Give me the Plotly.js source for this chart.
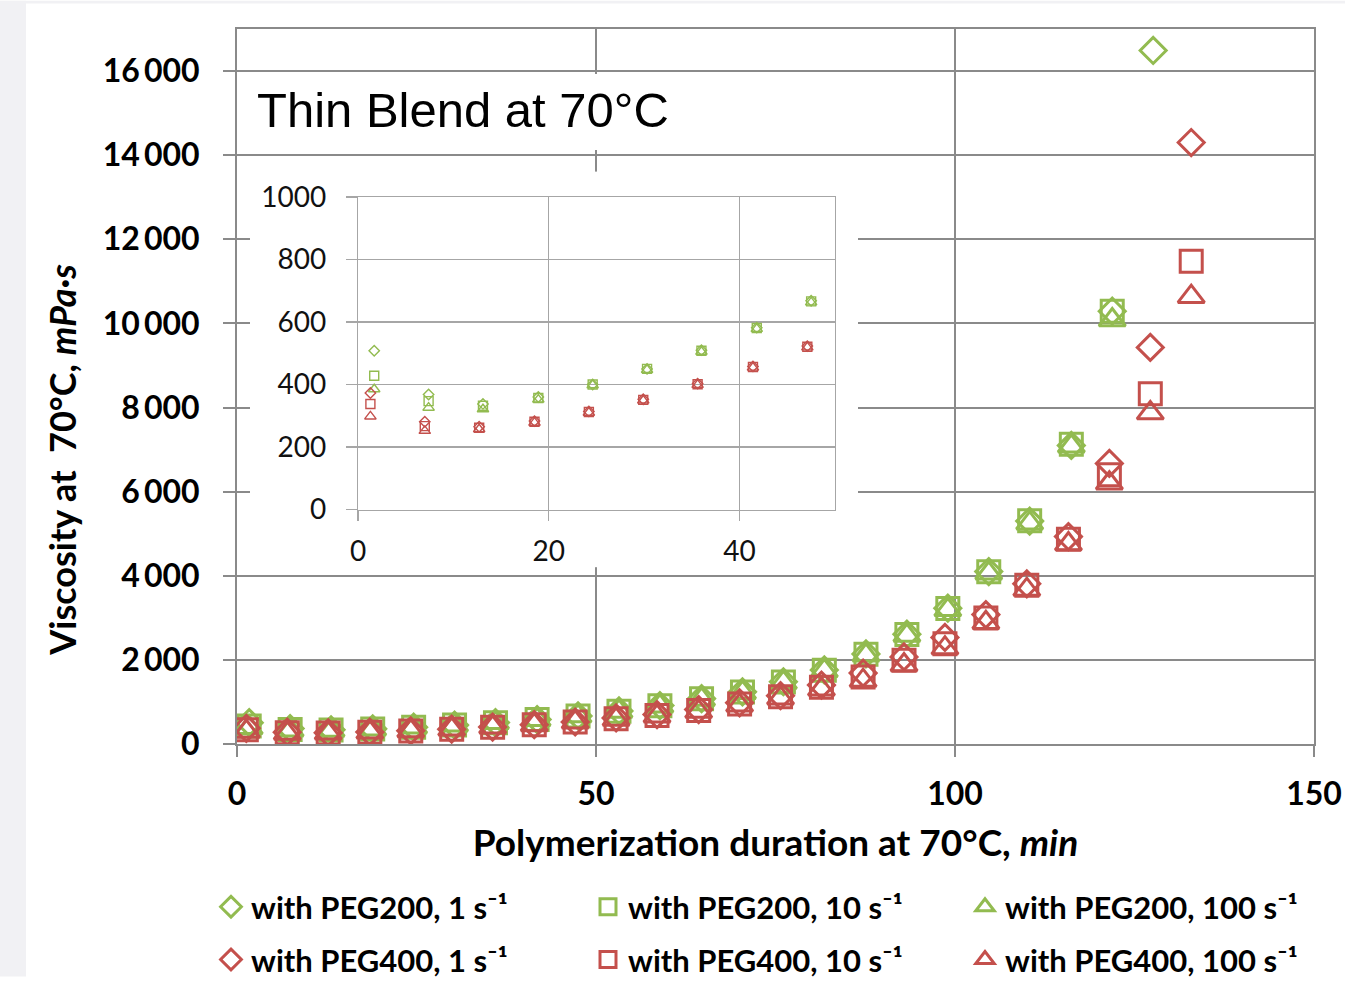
<!DOCTYPE html>
<html>
<head>
<meta charset="utf-8">
<script src="https://cdn.plot.ly/plotly-3.0.1.min.js"></script>
<style>
html,body{margin:0;padding:0;background:#fff;width:1345px;height:999px;overflow:hidden;}
#chart{position:absolute;left:0;top:0;width:1345px;height:999px;overflow:hidden;}
</style>
</head>
<body>
<div id="chart"></div>
<script>
// ---- data ----
const timePEG200 = [1.7, 7.4, 13.1, 18.9, 24.6, 30.3, 36.0, 41.8, 47.5, 53.2, 58.9, 64.7, 70.4, 76.1, 81.8, 87.6, 93.3, 99.0, 104.7, 110.4, 116.2, 121.9, 127.6];
const timePEG400 = [1.3, 7.0, 12.7, 18.5, 24.2, 29.9, 35.6, 41.4, 47.1, 52.8, 58.5, 64.3, 70.0, 75.7, 81.4, 87.2, 92.9, 98.6, 104.3, 110.0, 115.8, 121.5, 127.2, 132.9];

const peg200_1s   = [508, 368, 338, 360, 400, 450, 510, 582, 668, 785, 915, 1080, 1240, 1480, 1760, 2140, 2610, 3230, 4100, 5300, 7100, 10290, 16490];
const peg200_10s  = [428, 347, 332, 357, 400, 450, 508, 581, 666, 781, 911, 1074, 1237, 1476, 1755, 2133, 2605, 3223, 4097, 5310, 7126, 10290];
const peg200_100s = [385, 326, 321, 352, 398, 447, 505, 578, 663, 775, 900, 1060, 1220, 1460, 1740, 2110, 2580, 3190, 4060, 5250, 7080, 10080];

const peg400_1s   = [373, 281, 265, 283, 314, 353, 403, 458, 523, 620, 700, 820, 980, 1150, 1400, 1686, 2071, 2535, 3077, 3810, 4932, 6671, 9430, 14300];
const peg400_10s  = [338, 267, 262, 281, 312, 351, 401, 456, 521, 603, 680, 796, 951, 1121, 1352, 1593, 1994, 2381, 2998, 3772, 4870, 6400, 8325, 11478];
const peg400_100s = [298, 252, 257, 278, 310, 349, 399, 454, 519, 585, 660, 770, 920, 1090, 1300, 1507, 1878, 2280, 2882, 3671, 4754, 6199, 7868, 10636];

const seriesNames = [
  'with PEG200, 1 s\u207B\u00B9', 'with PEG200, 10 s\u207B\u00B9', 'with PEG200, 100 s\u207B\u00B9',
  'with PEG400, 1 s\u207B\u00B9', 'with PEG400, 10 s\u207B\u00B9', 'with PEG400, 100 s\u207B\u00B9'
];
const xTickVals = [0, 50, 100, 150];
const yTickVals = [0, 2000, 4000, 6000, 8000, 10000, 12000, 14000, 16000];
const insetXTicks = [0, 20, 40];
const insetYTicks = [0, 200, 400, 600, 800, 1000];
const chartTitle = 'Thin Blend at 70°C';
const xTitle = 'Polymerization duration at 70°C, <i>min</i>';
const yTitle = 'Viscosity at\u00A0 70°C, <i>mPa·s</i>';

// ---- styles ----
const GREEN = '#92BB50', RED = '#C4504C';
const GRID = '#8a8a8a', IGRID = '#a6a6a6';
const bold = 'Lato, "Open Sans", sans-serif';

const series = [
  {x: timePEG200, y: peg200_1s,   c: GREEN, s: 'diamond-open', leg: 'legend'},
  {x: timePEG200, y: peg200_10s,  c: GREEN, s: 'square-open', leg: 'legend'},
  {x: timePEG200, y: peg200_100s, c: GREEN, s: 'triangle-up-open', leg: 'legend'},
  {x: timePEG400, y: peg400_1s,   c: RED, s: 'diamond-open', leg: 'legend2'},
  {x: timePEG400, y: peg400_10s,  c: RED, s: 'square-open', leg: 'legend2'},
  {x: timePEG400, y: peg400_100s, c: RED, s: 'triangle-up-open', leg: 'legend2'}
];
const mainSize = {'diamond-open': 20, 'square-open': 22, 'triangle-up-open': 23};
const insetSize = {'diamond-open': 8, 'square-open': 9, 'triangle-up-open': 10};

const traces = [];
// cover subplot (white box behind the inset)
traces.push({x: [], y: [], xaxis: 'x2', yaxis: 'y2', type: 'scatter', mode: 'markers', showlegend: false, hoverinfo: 'skip'});
series.forEach((d, i) => {
  traces.push({
    type: 'scatter', mode: 'markers', name: seriesNames[i], legend: d.leg,
    x: d.x, y: d.y, xaxis: 'x', yaxis: 'y',
    marker: {symbol: d.s, size: mainSize[d.s], color: d.c, line: {color: d.c, width: 3}}
  });
});
series.forEach((d, i) => {
  traces.push({
    type: 'scatter', mode: 'markers', name: seriesNames[i], showlegend: false,
    x: d.x, y: d.y, xaxis: 'x3', yaxis: 'y3', cliponaxis: true,
    marker: {symbol: d.s, size: insetSize[d.s], color: d.c, line: {color: d.c, width: 1.4}}
  });
});

// plot area in px: x 237..1314, y 29..761
const L = 237, R = 1314, T = 29, B = 761, W = R - L, H = B - T;
const px = v => (v - L) / W;
const py = v => (B - v) / H;

const layout = {
  width: 1345, height: 999,
  margin: {l: L, r: 1345 - R, t: T, b: 999 - B, pad: 0},
  paper_bgcolor: '#ffffff', plot_bgcolor: '#ffffff',
  separators: '.\u2009',
  showlegend: true,
  font: {family: bold, color: '#000'},
  xaxis: {
    domain: [0, 1], anchor: 'y', range: [0, 150], tickvals: xTickVals,
    showgrid: true, gridcolor: GRID, gridwidth: 2, zeroline: false,
    showline: true, linecolor: GRID, linewidth: 2, mirror: true,
    ticks: 'outside', ticklen: 11, tickwidth: 2, tickcolor: GRID,
    tickfont: {family: bold, size: 32, color: '#000', weight: 'bold'}, ticklabelstandoff: 10,
    title: {text: xTitle, font: {family: bold, size: 37, color: '#000', weight: 'bold'}, standoff: 19}
  },
  yaxis: {
    domain: [0, 1], anchor: 'x', range: [0, 17000], tickvals: yTickVals, tickformat: ',d',
    showgrid: true, gridcolor: GRID, gridwidth: 2, zeroline: false,
    showline: true, linecolor: GRID, linewidth: 2, mirror: true,
    ticks: 'outside', ticklen: 12, tickwidth: 2, tickcolor: GRID,
    tickfont: {family: bold, size: 32, color: '#000', weight: 'bold'}, ticklabelstandoff: 17
  },
  // white cover behind inset
  xaxis2: {domain: [px(250), px(858)], anchor: 'y2', range: [0, 1], visible: false, showgrid: false, zeroline: false, fixedrange: true},
  yaxis2: {domain: [py(580), py(175)], anchor: 'x2', range: [0, 1], visible: false, showgrid: false, zeroline: false, fixedrange: true},
  // inset
  xaxis3: {
    domain: [px(358), px(835)], anchor: 'y3', range: [0, 50], tickvals: insetXTicks,
    showgrid: true, gridcolor: IGRID, gridwidth: 1.2, zeroline: false,
    showline: true, linecolor: IGRID, linewidth: 1.2, mirror: true,
    ticks: 'outside', ticklen: 10, tickwidth: 1.2, tickcolor: IGRID,
    tickfont: {family: bold, size: 28, color: '#111'}, ticklabelstandoff: 7
  },
  yaxis3: {
    domain: [py(521), py(201)], anchor: 'x3', range: [0, 1000], tickvals: insetYTicks,
    showgrid: true, gridcolor: IGRID, gridwidth: 1.2, zeroline: false,
    showline: true, linecolor: IGRID, linewidth: 1.2, mirror: true,
    ticks: 'outside', ticklen: 11, tickwidth: 1.2, tickcolor: IGRID,
    tickfont: {family: bold, size: 28, color: '#111'}, ticklabelstandoff: 14
  },
  legend: {
    orientation: 'h', x: px(211), xanchor: 'left', y: py(928), yanchor: 'middle',
    entrywidth: 332, entrywidthmode: 'pixels', bgcolor: 'rgba(0,0,0,0)',
    font: {family: bold, size: 31, color: '#000', weight: 'bold'}, traceorder: 'normal'
  },
  legend2: {
    orientation: 'h', x: px(211), xanchor: 'left', y: py(982), yanchor: 'middle',
    entrywidth: 332, entrywidthmode: 'pixels', bgcolor: 'rgba(0,0,0,0)',
    font: {family: bold, size: 31, color: '#000', weight: 'bold'}, traceorder: 'normal'
  },
  shapes: [
    {type: 'rect', xref: 'paper', yref: 'paper', x0: px(0), x1: px(26), y0: py(999), y1: py(0), fillcolor: '#f1f1f4', line: {width: 0}, layer: 'below'},
    {type: 'rect', xref: 'paper', yref: 'paper', x0: px(0), x1: px(1345), y0: py(3), y1: py(0), fillcolor: '#f1f1f4', line: {width: 0}, layer: 'below'},
    {type: 'rect', xref: 'paper', yref: 'paper', x0: px(240), x1: px(690), y0: py(153), y1: py(75), fillcolor: '#ffffff', line: {width: 0}, layer: 'above'}
  ],
  annotations: [
    {text: chartTitle, xref: 'paper', yref: 'paper', x: px(255), y: py(112), xanchor: 'left', yanchor: 'middle',
     showarrow: false, font: {family: '"Liberation Sans", Arial, sans-serif', size: 49, color: '#000'}},
    {text: yTitle, xref: 'paper', yref: 'paper', x: px(62), y: py(470), xanchor: 'center', yanchor: 'middle', textangle: -90,
     showarrow: false, font: {family: bold, size: 36, color: '#000', weight: 'bold'}}
  ]
};

Plotly.newPlot('chart', traces, layout, {displayModeBar: false, staticPlot: true});
</script>
</body>
</html>
